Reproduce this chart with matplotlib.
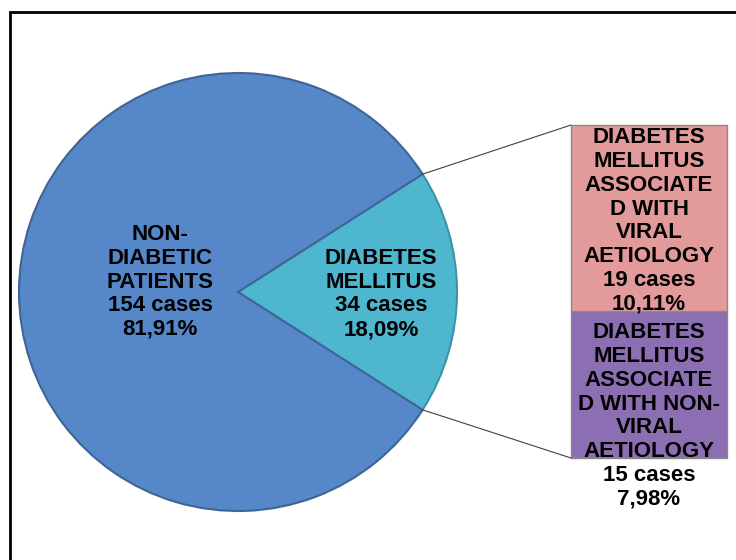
import numpy as np
import matplotlib
matplotlib.use("Agg")
from matplotlib import pyplot as plt
from matplotlib.patches import Rectangle

# pie data
pie_labels = ["DIABETES\nMELLITUS", "NON-\nDIABETIC\nPATIENTS"]
pie_cases = [34, 154]
pie_pct = ["18,09%", "81,91%"]
pie_colors = ["#4FB6CF", "#5587C9"]

# bar data (breakdown of diabetes mellitus), bottom to top
bar_labels = ["DIABETES\nMELLITUS\nASSOCIATE\nD WITH NON-\nVIRAL\nAETIOLOGY",
              "DIABETES\nMELLITUS\nASSOCIATE\nD WITH\nVIRAL\nAETIOLOGY"]
bar_cases = [15, 19]
bar_pct = ["7,98%", "10,11%"]
bar_colors = ["#8C6FB2", "#E39A9A"]

W, H = 736, 560
fig = plt.figure(figsize=(W / 100, H / 100), dpi=100)
ax = fig.add_axes([0, 0, 1, 1])

font = dict(family="Liberation Sans", weight="bold", fontsize=16,
            color="black", linespacing=1.17, ha="center", va="center")

# chart border
fig.patches.append(Rectangle((10 / W, -0.1), 1.2, (H - 12) / H + 0.1,
                             transform=fig.transFigure, fill=False,
                             edgecolor="black", linewidth=2))

# pie
cx, cy, r = 238, 268, 219
dm_angle = 360 * pie_cases[0] / sum(pie_cases)
wedges, _ = ax.pie(pie_cases, colors=pie_colors, startangle=-dm_angle / 2,
                   center=(cx, cy), radius=r, frame=True,
                   wedgeprops=dict(edgecolor="#3E6596", linewidth=1.5))
wedges[0].set_edgecolor("#3A93AB")
ax.set_xlim(0, W)
ax.set_ylim(0, H)
ax.set_aspect("equal")
ax.axis("off")

ax.text(cx + 143, cy - 2, "%s\n%d cases\n%s" % (pie_labels[0], pie_cases[0], pie_pct[0]), **font)
ax.text(cx - 78, cy + 10, "%s\n%d cases\n%s" % (pie_labels[1], pie_cases[1], pie_pct[1]), **font)

# stacked bar
bx, bw = 649, 156
bar_top, bar_bottom = H - 125, H - 458
scale = (bar_top - bar_bottom) / sum(bar_cases)
bottom = bar_bottom
for lab, n, p, c in zip(bar_labels, bar_cases, bar_pct, bar_colors):
    h = n * scale
    ax.bar(bx, h, width=bw, bottom=bottom, color=c, edgecolor="#8a8a8a", linewidth=1)
    bottom += h

ax.text(bx, H - 221, "%s\n%d cases\n%s" % (bar_labels[1], bar_cases[1], bar_pct[1]), **font)
ax.text(bx, H - 416, "%s\n%d cases\n%s" % (bar_labels[0], bar_cases[0], bar_pct[0]), **font)

# connector lines from slice edges to bar corners
half = np.deg2rad(dm_angle / 2)
ax.plot([cx + r * np.cos(half), bx - bw / 2], [cy + r * np.sin(half), bar_top],
        color="#404040", linewidth=0.8)
ax.plot([cx + r * np.cos(half), bx - bw / 2], [cy - r * np.sin(half), bar_bottom],
        color="#404040", linewidth=0.8)

fig.savefig("out.png", dpi=100)
